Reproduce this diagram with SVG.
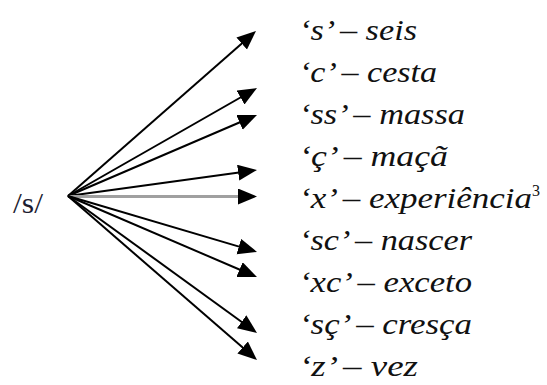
<svg xmlns="http://www.w3.org/2000/svg" width="547" height="385" viewBox="0 0 547 385">
<style>
.lbl{font-family:'Liberation Serif','Times New Roman',serif;font-style:italic;font-size:30px;fill:#111}
.src{font-family:'Liberation Serif','Times New Roman',serif;font-size:30px;fill:#1c1c30}
.arr{stroke:#000;stroke-width:2;fill:none;marker-end:url(#ah)}
.arr.gray{stroke:#a0a0a0;stroke-width:3}
</style>
<defs>
<marker id="ah" markerUnits="userSpaceOnUse" markerWidth="20" markerHeight="17" refX="10" refY="8" orient="auto" viewBox="0 0 20 17">
<path d="M0,0 L19,8 L0,16 z" fill="#000"/>
</marker>
</defs>
<rect width="547" height="385" fill="#fff"/>
<g id="source"><text class="src" x="13" y="213" textLength="30" lengthAdjust="spacingAndGlyphs">/s/</text></g>
<g id="connectors">
<line class="arr" x1="68" y1="196" x2="249.2" y2="36.9"/>
<line class="arr" x1="68" y1="196" x2="249.2" y2="92.5"/>
<line class="arr" x1="68" y1="196" x2="248.7" y2="118.5"/>
<line class="arr" x1="68" y1="196" x2="248.1" y2="171.2"/>
<line class="arr gray" x1="68" y1="196.5" x2="248" y2="196.5"/>
<line class="arr" x1="68" y1="196" x2="248.4" y2="249.4"/>
<line class="arr" x1="68" y1="196" x2="248.7" y2="273.5"/>
<line class="arr" x1="68" y1="196" x2="249.7" y2="327.7"/>
<line class="arr" x1="68" y1="196" x2="250.2" y2="354.1"/>
</g>
<g id="n1"><text class="lbl" x="299" y="40" textLength="118" lengthAdjust="spacingAndGlyphs">‘s’ – seis</text></g>
<g id="n2"><text class="lbl" x="299" y="82" textLength="138" lengthAdjust="spacingAndGlyphs">‘c’ – cesta</text></g>
<g id="n3"><text class="lbl" x="299" y="124" textLength="166" lengthAdjust="spacingAndGlyphs">‘ss’ – massa</text></g>
<g id="n4"><text class="lbl" x="299" y="166" textLength="149" lengthAdjust="spacingAndGlyphs">‘ç’ – maçã</text></g>
<g id="n5"><text class="lbl" x="299" y="208"><tspan textLength="233" lengthAdjust="spacingAndGlyphs">‘x’ – experiência</tspan><tspan font-size="16" dy="-12" font-style="normal">3</tspan></text></g>
<g id="n6"><text class="lbl" x="299" y="250" textLength="173" lengthAdjust="spacingAndGlyphs">‘sc’ – nascer</text></g>
<g id="n7"><text class="lbl" x="299" y="292" textLength="173" lengthAdjust="spacingAndGlyphs">‘xc’ – exceto</text></g>
<g id="n8"><text class="lbl" x="299" y="334" textLength="173" lengthAdjust="spacingAndGlyphs">‘sç’ – cresça</text></g>
<g id="n9"><text class="lbl" x="299" y="376" textLength="119" lengthAdjust="spacingAndGlyphs">‘z’ – vez</text></g>
</svg>
